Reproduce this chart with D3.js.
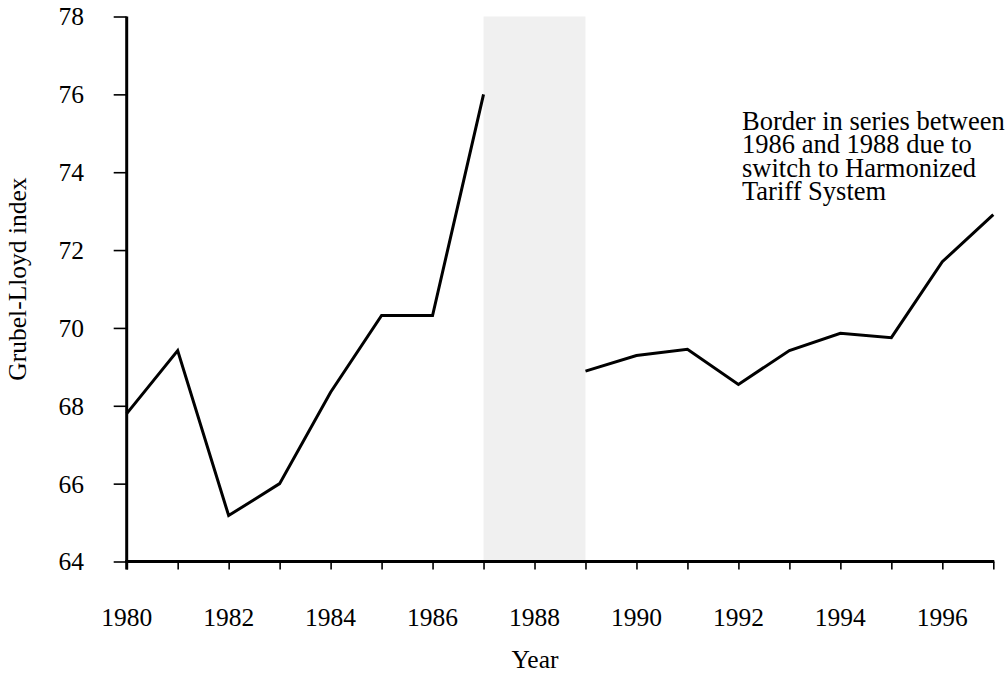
<!DOCTYPE html>
<html>
<head>
<meta charset="utf-8">
<script src="https://cdn.jsdelivr.net/npm/d3@7"></script>
<style>
  html, body { margin: 0; padding: 0; background: #fff; }
  svg { display: block; }
  text { font-family: "Liberation Serif", "Times New Roman", serif; fill: #000; }
</style>
</head>
<body>
<svg id="chart" width="1008" height="673"></svg>
<script>
// Grubel-Lloyd intra-industry trade index, two series split by the tariff classification change
const yearsBefore = [1980, 1981, 1982, 1983, 1984, 1985, 1986, 1987];
const indexBefore = [67.8, 69.42, 65.18, 66.0, 68.35, 70.32, 70.32, 76.0];
const yearsAfter = [1989, 1990, 1991, 1992, 1993, 1994, 1995, 1996, 1997];
const indexAfter = [68.89, 69.29, 69.45, 68.55, 69.42, 69.86, 69.75, 71.7, 72.91];
const breakRange = [1987, 1989];
const xTickYears = [1980, 1981, 1982, 1983, 1984, 1985, 1986, 1987, 1988, 1989, 1990, 1991, 1992, 1993, 1994, 1995, 1996, 1997];
const xLabelYears = [1980, 1982, 1984, 1986, 1988, 1990, 1992, 1994, 1996];
const yTicks = [64, 66, 68, 70, 72, 74, 76, 78];
const noteLines = ["Border in series between", "1986 and 1988 due to", "switch to Harmonized", "Tariff System"];

const svg = d3.select("#chart");
const plotLeft = 126.7, plotRight = 993.3, plotTop = 16.5, plotBottom = 561.5;
const fontSize = 25.5;
const noteSize = 26.5;

const x = d3.scaleLinear().domain([1980, 1997]).range([plotLeft, plotRight]);
const y = d3.scaleLinear().domain([64, 78]).range([plotBottom, plotTop]);

// shaded break between the two classification systems
svg.append("rect")
  .attr("x", x(breakRange[0]))
  .attr("y", y(78))
  .attr("width", x(breakRange[1]) - x(breakRange[0]))
  .attr("height", y(64) - y(78))
  .attr("fill", "#f0f0f0");

// x axis
const xAxis = svg.append("g").attr("transform", `translate(0,${plotBottom})`)
  .call(d3.axisBottom(x).tickValues(xTickYears).tickSize(8).tickFormat(""));
xAxis.select(".domain").attr("stroke-width", 3).attr("d", `M${plotLeft - 1.5},0H${plotRight + 1}`);
xAxis.selectAll(".tick line").attr("stroke-width", 1.6);

svg.append("g").selectAll("text").data(xLabelYears).join("text")
  .attr("x", d => x(d))
  .attr("y", 626)
  .attr("text-anchor", "middle")
  .style("font-size", fontSize + "px")
  .text(d => d);

// y axis
const yAxis = svg.append("g").attr("transform", `translate(${plotLeft},0)`)
  .call(d3.axisLeft(y).tickValues(yTicks).tickSize(13).tickFormat(""));
yAxis.select(".domain").attr("stroke-width", 3).attr("d", `M0,${plotTop}V${plotBottom + 8}`);
yAxis.selectAll(".tick line").attr("stroke-width", 1.6);

svg.append("g").selectAll("text").data(yTicks).join("text")
  .attr("x", 84)
  .attr("y", d => y(d))
  .attr("dy", "0.35em")
  .attr("text-anchor", "end")
  .style("font-size", fontSize + "px")
  .text(d => d);

// axis titles
svg.append("text")
  .attr("transform", `translate(26,279) rotate(-90)`)
  .attr("text-anchor", "middle")
  .style("font-size", fontSize + "px")
  .text("Grubel-Lloyd index");

svg.append("text")
  .attr("x", 535)
  .attr("y", 668)
  .attr("text-anchor", "middle")
  .style("font-size", fontSize + "px")
  .text("Year");

// series lines
const line = d3.line().x(d => x(d[0])).y(d => y(d[1]));
const seriesBefore = yearsBefore.map((yr, i) => [yr, indexBefore[i]]);
const seriesAfter = yearsAfter.map((yr, i) => [yr, indexAfter[i]]);

[seriesBefore, seriesAfter].forEach(s => {
  svg.append("path")
    .datum(s)
    .attr("d", line)
    .attr("fill", "none")
    .attr("stroke", "#000")
    .attr("stroke-width", 3)
    .attr("stroke-linejoin", "miter");
});

// note about the series break
svg.append("g").selectAll("text").data(noteLines).join("text")
  .attr("x", 742)
  .attr("y", (d, i) => 130 + i * 23.3)
  .style("font-size", noteSize + "px")
  .text(d => d);
</script>
</body>
</html>
